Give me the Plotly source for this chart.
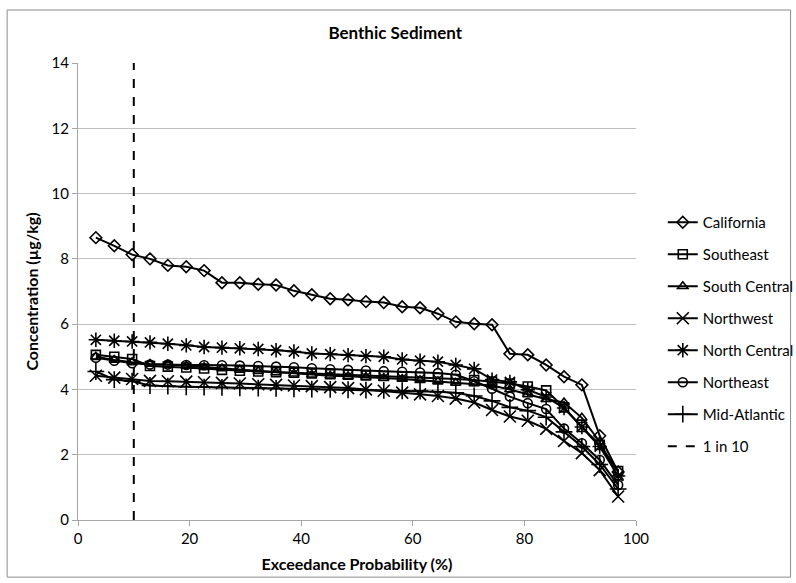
import plotly.graph_objects as go

# Exceedance probability (%) for each ranked sample
exceedance = [3.2, 6.5, 9.7, 12.9, 16.1, 19.4, 22.6, 25.8, 29.0, 32.3,
              35.5, 38.7, 41.9, 45.2, 48.4, 51.6, 54.8, 58.1, 61.3, 64.5,
              67.7, 71.0, 74.2, 77.4, 80.6, 83.9, 87.1, 90.3, 93.5, 96.8]

california = [8.65, 8.40, 8.13, 8.00, 7.80, 7.76, 7.64, 7.27, 7.27, 7.22,
              7.20, 7.02, 6.90, 6.78, 6.75, 6.69, 6.66, 6.53, 6.50, 6.32,
              6.07, 6.01, 5.98, 5.09, 5.06, 4.75, 4.39, 4.14, 2.58, 1.47]
southeast = [5.06, 5.00, 4.93, 4.72, 4.70, 4.67, 4.64, 4.60, 4.57, 4.55,
             4.53, 4.51, 4.49, 4.47, 4.45, 4.43, 4.41, 4.40, 4.38, 4.35,
             4.32, 4.29, 4.24, 4.18, 4.09, 3.97, 3.45, 2.85, 2.30, 1.50]
south_central = [5.00, 4.90, 4.83, 4.78, 4.76, 4.72, 4.68, 4.64, 4.60, 4.56,
                 4.52, 4.48, 4.45, 4.42, 4.40, 4.38, 4.35, 4.32, 4.28, 4.24,
                 4.20, 4.18, 4.12, 4.00, 3.85, 3.70, 3.60, 3.13, 2.40, 1.30]
northwest = [4.42, 4.36, 4.32, 4.26, 4.25, 4.24, 4.22, 4.20, 4.18, 4.16,
             4.14, 4.12, 4.10, 4.07, 4.04, 4.00, 3.96, 3.90, 3.85, 3.80,
             3.72, 3.60, 3.37, 3.17, 3.04, 2.79, 2.42, 2.05, 1.53, 0.72]
north_central = [5.52, 5.49, 5.47, 5.44, 5.40, 5.35, 5.30, 5.28, 5.26, 5.24,
                 5.20, 5.16, 5.10, 5.08, 5.05, 5.02, 5.00, 4.92, 4.88, 4.85,
                 4.75, 4.63, 4.30, 4.23, 3.99, 3.77, 3.43, 2.85, 2.25, 1.35]
northeast = [4.97, 4.88, 4.80, 4.76, 4.76, 4.75, 4.74, 4.74, 4.73, 4.72,
             4.70, 4.68, 4.65, 4.62, 4.60, 4.58, 4.56, 4.54, 4.52, 4.50,
             4.45, 4.25, 4.02, 3.78, 3.58, 3.40, 2.80, 2.35, 1.84, 1.07]
mid_atlantic = [4.55, 4.30, 4.25, 4.12, 4.10, 4.08, 4.07, 4.06, 4.05, 4.04,
                4.03, 4.02, 4.01, 4.00, 3.99, 3.98, 3.97, 3.96, 3.95, 3.93,
                3.90, 3.80, 3.65, 3.45, 3.35, 3.15, 2.70, 2.25, 1.70, 0.95]

series = [
    ("California", california, "diamond-open"),
    ("Southeast", southeast, "square-open"),
    ("South Central", south_central, "triangle-up-open"),
    ("Northwest", northwest, "x-thin-open"),
    ("North Central", north_central, "asterisk-open"),
    ("Northeast", northeast, "circle-open"),
    ("Mid-Atlantic", mid_atlantic, "cross-thin-open"),
]

reference_x = [10, 10]
reference_y = [0, 14]

FONT = "Lato, Calibri, Arial, sans-serif"

fig = go.Figure()
for i, (name, vals, sym) in enumerate(series):
    size = 12 if sym in ("x-thin-open", "asterisk-open", "cross-thin-open") else 9
    fig.add_trace(go.Scatter(
        x=exceedance, y=vals, name=name, mode="lines+markers",
        legendgroup=f"g{i}",
        line=dict(color="black", width=2),
        marker=dict(symbol=sym, size=size, color="black",
                    line=dict(color="black", width=1.6)),
    ))

fig.add_trace(go.Scatter(
    x=reference_x, y=reference_y, name="1 in 10", mode="lines",
    legendgroup="g_ref",
    line=dict(color="black", width=2, dash="dash"),
))

fig.update_layout(
    width=796, height=583,
    margin=dict(l=78, r=160, t=63, b=63, autoexpand=False),
    paper_bgcolor="white", plot_bgcolor="white",
    font=dict(family=FONT, size=15, color="black"),
    title=dict(text="<b>Benthic Sediment</b>", x=0.4965, xanchor="center",
               y=0.943, yanchor="middle", font=dict(size=17)),
    showlegend=True,
    legend=dict(x=1.048, xanchor="left", y=0.406, yanchor="middle",
                tracegroupgap=9.5, itemwidth=30, bgcolor="rgba(0,0,0,0)",
                font=dict(size=15, family=FONT)),
    xaxis=dict(range=[0, 100], tickvals=[0, 20, 40, 60, 80, 100],
               showgrid=False, showline=True, linecolor="#a6a6a6", linewidth=1,
               ticks="outside", ticklen=5, tickcolor="#a6a6a6",
               zeroline=False, tickfont=dict(size=15),
               title=dict(text="<b>Exceedance Probability (%)</b>",
                          font=dict(size=16), standoff=12)),
    yaxis=dict(range=[0, 14], tickvals=list(range(0, 15, 2)),
               showgrid=True, gridcolor="#bfbfbf", gridwidth=1,
               showline=True, linecolor="#a6a6a6", linewidth=1,
               ticks="outside", ticklen=5, tickcolor="#a6a6a6",
               zeroline=False, tickfont=dict(size=15),
               title=dict(text="<b>Concentration (µg/kg)</b>",
                          font=dict(size=16), standoff=8)),
)

# chart frame
fig.add_shape(type="rect", xref="paper", yref="paper",
              x0=-0.127, x1=1.277, y0=-0.125, y1=1.116,
              line=dict(color="#8c8c8c", width=1), layer="below")

fig.write_html("out.html")
